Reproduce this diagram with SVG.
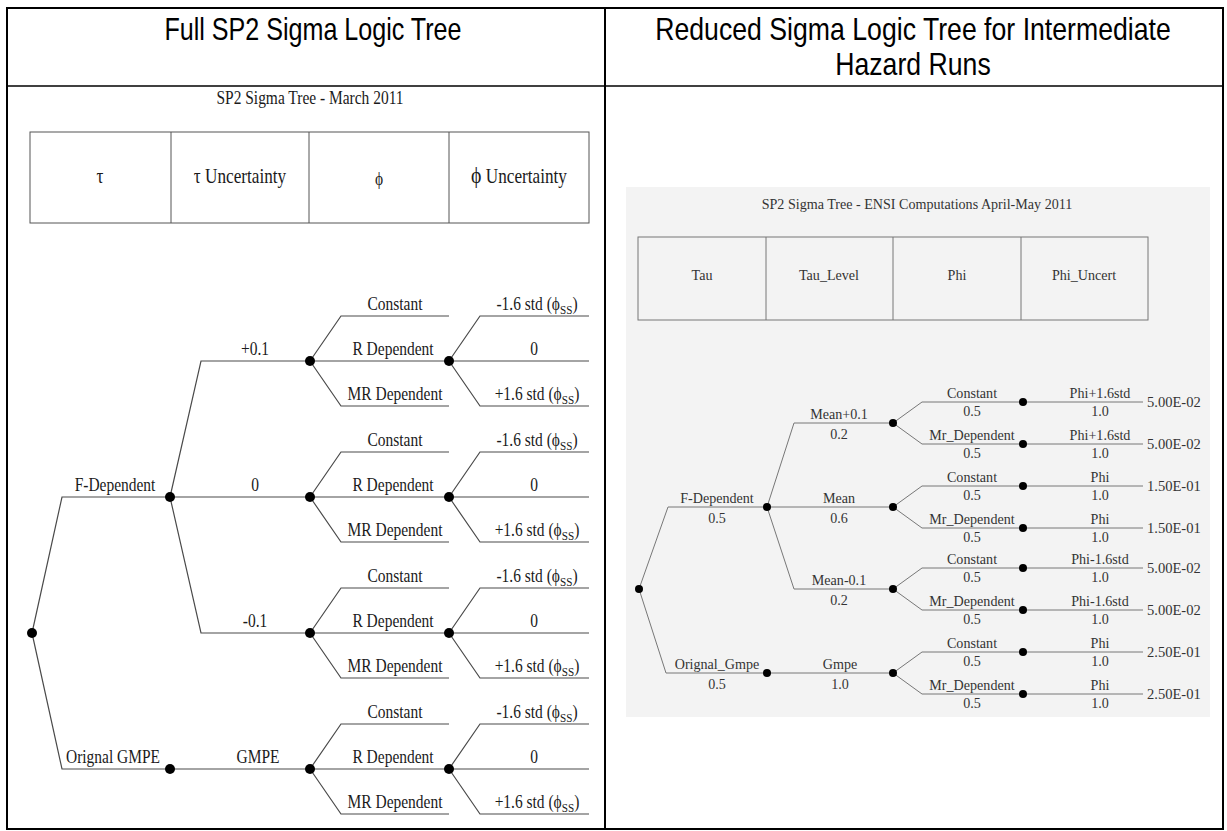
<svg xmlns="http://www.w3.org/2000/svg" width="1227" height="831" viewBox="0 0 1227 831">
<style>
text{font-family:"Liberation Serif","Times New Roman",serif;}
.h{font-family:"Liberation Sans",Arial,sans-serif;font-size:31px;fill:#000;text-anchor:middle;transform-box:fill-box;transform-origin:center;}
.hl{transform:scaleX(.81);}
.hr{transform:scaleX(.86);}
.lt{font-size:18px;fill:#1a1a1a;text-anchor:middle;transform-box:fill-box;transform-origin:center;transform:scaleX(.86);}
.lh{font-size:20px;}
.rt{font-size:15px;fill:#333;text-anchor:middle;transform-box:fill-box;transform-origin:center;transform:scaleX(.94);}
.re{font-size:15.5px;fill:#333;text-anchor:start;transform-box:fill-box;transform-origin:left;transform:scaleX(.94);}
.frame{fill:none;stroke:#000;stroke-width:2;}
.box{fill:none;stroke:#555;stroke-width:1;}
.rbox{fill:none;stroke:#777;stroke-width:1;}
.lc path{fill:none;stroke:#4a4a4a;stroke-width:1.2;}
.rc path{fill:none;stroke:#777;stroke-width:1;}
.ld{fill:#000;}
</style>

<!-- outer table -->
<g id="table">
<rect class="frame" x="7" y="8" width="1216" height="821"/>
<line x1="7" y1="86" x2="1223" y2="86" stroke="#000" stroke-width="1.5"/>
<line x1="605" y1="8" x2="605" y2="829" stroke="#000" stroke-width="2"/>
<text class="h hl" x="313" y="40">Full SP2 Sigma Logic Tree</text>
<text class="h hr" x="913" y="40">Reduced Sigma Logic Tree for Intermediate</text>
<text class="h hr" x="913" y="75">Hazard Runs</text>
</g>

<!-- LEFT PANEL -->
<g id="left-header">
<text class="lt" x="310" y="104">SP2 Sigma Tree - March 2011</text>
<rect class="box" x="30" y="132" width="559" height="91"/>
<line class="box" x1="171" y1="132" x2="171" y2="223"/>
<line class="box" x1="309" y1="132" x2="309" y2="223"/>
<line class="box" x1="449" y1="132" x2="449" y2="223"/>
<text class="lt lh" x="100" y="183">τ</text>
<text class="lt lh" x="240" y="183">τ Uncertainty</text>
<text class="lt" x="379" y="185" font-size="23">ϕ</text>
<text class="lt lh" x="519" y="183"><tspan font-size="23">ϕ</tspan> Uncertainty</text>
</g>

<g id="left-connectors" class="lc">
<path d="M32,633 L62,497 L170,497"/>
<path d="M32,633 L62,769 L170,769"/>
<path d="M170,497 L201,361 L310,361"/>
<path d="M170,497 L310,497"/>
<path d="M170,497 L201,633 L310,633"/>
<path d="M170,769 L310,769"/>
<path d="M310,361 L341,316 L449,316 M310,361 L449,361 M310,361 L341,406 L449,406 M449,361 L480,316 L589,316 M449,361 L589,361 M449,361 L480,406 L589,406"/>
<path d="M310,497 L341,452 L449,452 M310,497 L449,497 M310,497 L341,542 L449,542 M449,497 L480,452 L589,452 M449,497 L589,497 M449,497 L480,542 L589,542"/>
<path d="M310,633 L341,588 L449,588 M310,633 L449,633 M310,633 L341,678 L449,678 M449,633 L480,588 L589,588 M449,633 L589,633 M449,633 L480,678 L589,678"/>
<path d="M310,769 L341,724 L449,724 M310,769 L449,769 M310,769 L341,814 L449,814 M449,769 L480,724 L589,724 M449,769 L589,769 M449,769 L480,814 L589,814"/>
</g>

<g id="l-root"><circle class="ld" cx="32" cy="633" r="5"/></g>
<g id="l-fdep"><circle class="ld" cx="170" cy="497" r="5"/><text class="lt" x="115" y="491">F-Dependent</text></g>
<g id="l-orig"><circle class="ld" cx="170" cy="769" r="5"/><text class="lt" x="113" y="763">Orignal GMPE</text></g>

<g id="l-p01"><circle class="ld" cx="310" cy="361" r="5"/><text class="lt" x="255" y="355">+0.1</text>
<text class="lt" x="395" y="310">Constant</text><text class="lt" x="393" y="355">R Dependent</text><text class="lt" x="395" y="400">MR Dependent</text></g>
<g id="l-p01-phi"><circle class="ld" cx="449" cy="361" r="5"/>
<text class="lt" x="537" y="310">-1.6 std (ϕ<tspan font-size="13" dy="4">SS</tspan><tspan dy="-4">)</tspan></text>
<text class="lt" x="534" y="355">0</text>
<text class="lt" x="537" y="400">+1.6 std (ϕ<tspan font-size="13" dy="4">SS</tspan><tspan dy="-4">)</tspan></text></g>

<g id="l-0"><circle class="ld" cx="310" cy="497" r="5"/><text class="lt" x="255" y="491">0</text>
<text class="lt" x="395" y="446">Constant</text><text class="lt" x="393" y="491">R Dependent</text><text class="lt" x="395" y="536">MR Dependent</text></g>
<g id="l-0-phi"><circle class="ld" cx="449" cy="497" r="5"/>
<text class="lt" x="537" y="446">-1.6 std (ϕ<tspan font-size="13" dy="4">SS</tspan><tspan dy="-4">)</tspan></text>
<text class="lt" x="534" y="491">0</text>
<text class="lt" x="537" y="536">+1.6 std (ϕ<tspan font-size="13" dy="4">SS</tspan><tspan dy="-4">)</tspan></text></g>

<g id="l-m01"><circle class="ld" cx="310" cy="633" r="5"/><text class="lt" x="255" y="627">-0.1</text>
<text class="lt" x="395" y="582">Constant</text><text class="lt" x="393" y="627">R Dependent</text><text class="lt" x="395" y="672">MR Dependent</text></g>
<g id="l-m01-phi"><circle class="ld" cx="449" cy="633" r="5"/>
<text class="lt" x="537" y="582">-1.6 std (ϕ<tspan font-size="13" dy="4">SS</tspan><tspan dy="-4">)</tspan></text>
<text class="lt" x="534" y="627">0</text>
<text class="lt" x="537" y="672">+1.6 std (ϕ<tspan font-size="13" dy="4">SS</tspan><tspan dy="-4">)</tspan></text></g>

<g id="l-gmpe"><circle class="ld" cx="310" cy="769" r="5"/><text class="lt" x="258" y="763">GMPE</text>
<text class="lt" x="395" y="718">Constant</text><text class="lt" x="393" y="763">R Dependent</text><text class="lt" x="395" y="808">MR Dependent</text></g>
<g id="l-gmpe-phi"><circle class="ld" cx="449" cy="769" r="5"/>
<text class="lt" x="537" y="718">-1.6 std (ϕ<tspan font-size="13" dy="4">SS</tspan><tspan dy="-4">)</tspan></text>
<text class="lt" x="534" y="763">0</text>
<text class="lt" x="537" y="808">+1.6 std (ϕ<tspan font-size="13" dy="4">SS</tspan><tspan dy="-4">)</tspan></text></g>

<!-- RIGHT PANEL -->
<rect id="r-bg" x="626" y="187" width="584" height="530" fill="#f3f3f3"/>
<g id="right-header">
<text class="rt" x="917" y="209" font-size="16">SP2 Sigma Tree - ENSI Computations April-May 2011</text>
<rect class="rbox" x="638" y="237" width="510" height="83"/>
<line class="rbox" x1="766" y1="237" x2="766" y2="320"/>
<line class="rbox" x1="893" y1="237" x2="893" y2="320"/>
<line class="rbox" x1="1021" y1="237" x2="1021" y2="320"/>
<text class="rt" x="702" y="280">Tau</text>
<text class="rt" x="829" y="280">Tau_Level</text>
<text class="rt" x="957" y="280">Phi</text>
<text class="rt" x="1084" y="280">Phi_Uncert</text>
</g>

<g id="right-connectors" class="rc">
<path d="M639,589 L668,507 L767,507"/>
<path d="M639,589 L666,673 L767,673"/>
<path d="M767,507 L794,423 L893,423"/>
<path d="M767,507 L893,507"/>
<path d="M767,507 L794,589 L893,589"/>
<path d="M767,673 L893,673"/>
<path d="M893,423 L922,402 L1143,402 M893,423 L922,444 L1143,444"/>
<path d="M893,507 L922,486 L1143,486 M893,507 L922,528 L1143,528"/>
<path d="M893,589 L922,568 L1143,568 M893,589 L922,610 L1143,610"/>
<path d="M893,673 L922,652 L1143,652 M893,673 L922,694 L1143,694"/>
</g>

<g id="r-root"><circle class="ld" cx="639" cy="589" r="4"/></g>
<g id="r-fdep"><circle class="ld" cx="767" cy="507" r="4"/><text class="rt" x="717" y="503">F-Dependent</text><text class="rt" x="717" y="523">0.5</text></g>
<g id="r-orig"><circle class="ld" cx="767" cy="673" r="4"/><text class="rt" x="717" y="669">Orignal_Gmpe</text><text class="rt" x="717" y="689">0.5</text></g>

<g id="r-meanp"><circle class="ld" cx="893" cy="423" r="4"/><text class="rt" x="839" y="419">Mean+0.1</text><text class="rt" x="839" y="439">0.2</text>
<text class="rt" x="972" y="398">Constant</text><text class="rt" x="972" y="416">0.5</text>
<text class="rt" x="972" y="440">Mr_Dependent</text><text class="rt" x="972" y="458">0.5</text></g>
<g id="r-meanp-phi"><circle class="ld" cx="1023" cy="402" r="4"/><circle class="ld" cx="1023" cy="444" r="4"/>
<text class="rt" x="1100" y="398">Phi+1.6std</text><text class="rt" x="1100" y="416">1.0</text>
<text class="rt" x="1100" y="440">Phi+1.6std</text><text class="rt" x="1100" y="458">1.0</text>
<text class="re" x="1147" y="407">5.00E-02</text><text class="re" x="1147" y="449">5.00E-02</text></g>

<g id="r-mean"><circle class="ld" cx="893" cy="507" r="4"/><text class="rt" x="839" y="503">Mean</text><text class="rt" x="839" y="523">0.6</text>
<text class="rt" x="972" y="482">Constant</text><text class="rt" x="972" y="500">0.5</text>
<text class="rt" x="972" y="524">Mr_Dependent</text><text class="rt" x="972" y="542">0.5</text></g>
<g id="r-mean-phi"><circle class="ld" cx="1023" cy="486" r="4"/><circle class="ld" cx="1023" cy="528" r="4"/>
<text class="rt" x="1100" y="482">Phi</text><text class="rt" x="1100" y="500">1.0</text>
<text class="rt" x="1100" y="524">Phi</text><text class="rt" x="1100" y="542">1.0</text>
<text class="re" x="1147" y="491">1.50E-01</text><text class="re" x="1147" y="533">1.50E-01</text></g>

<g id="r-meanm"><circle class="ld" cx="893" cy="589" r="4"/><text class="rt" x="839" y="585">Mean-0.1</text><text class="rt" x="839" y="605">0.2</text>
<text class="rt" x="972" y="564">Constant</text><text class="rt" x="972" y="582">0.5</text>
<text class="rt" x="972" y="606">Mr_Dependent</text><text class="rt" x="972" y="624">0.5</text></g>
<g id="r-meanm-phi"><circle class="ld" cx="1023" cy="568" r="4"/><circle class="ld" cx="1023" cy="610" r="4"/>
<text class="rt" x="1100" y="564">Phi-1.6std</text><text class="rt" x="1100" y="582">1.0</text>
<text class="rt" x="1100" y="606">Phi-1.6std</text><text class="rt" x="1100" y="624">1.0</text>
<text class="re" x="1147" y="573">5.00E-02</text><text class="re" x="1147" y="615">5.00E-02</text></g>

<g id="r-gmpe"><circle class="ld" cx="893" cy="673" r="4"/><text class="rt" x="840" y="669">Gmpe</text><text class="rt" x="840" y="689">1.0</text>
<text class="rt" x="972" y="648">Constant</text><text class="rt" x="972" y="666">0.5</text>
<text class="rt" x="972" y="690">Mr_Dependent</text><text class="rt" x="972" y="708">0.5</text></g>
<g id="r-gmpe-phi"><circle class="ld" cx="1023" cy="652" r="4"/><circle class="ld" cx="1023" cy="694" r="4"/>
<text class="rt" x="1100" y="648">Phi</text><text class="rt" x="1100" y="666">1.0</text>
<text class="rt" x="1100" y="690">Phi</text><text class="rt" x="1100" y="708">1.0</text>
<text class="re" x="1147" y="657">2.50E-01</text><text class="re" x="1147" y="699">2.50E-01</text></g>
</svg>
